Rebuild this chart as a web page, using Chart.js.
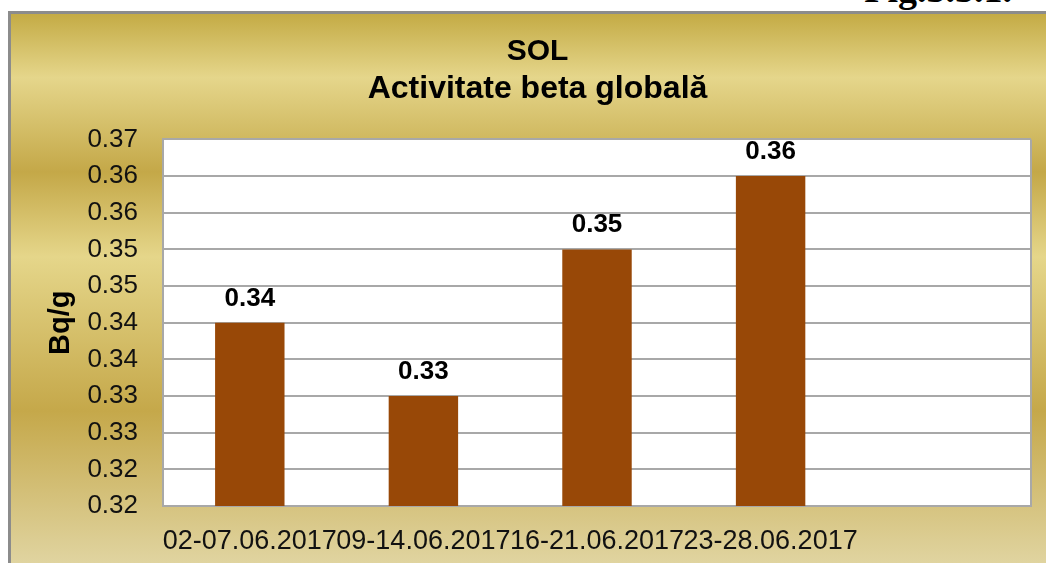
<!DOCTYPE html>
<html>
<head>
<meta charset="utf-8">
<script src="https://cdn.jsdelivr.net/npm/chart.js@4/dist/chart.umd.min.js"></script>
<style>
  html, body { margin: 0; padding: 0; background: #ffffff; width: 1046px; height: 563px; overflow: hidden; position: relative; }
  #frame {
    position: absolute; left: 8px; top: 11px; right: 0; bottom: 0;
    border-left: 3px solid #8c8c8c; border-top: 3px solid #8c8c8c;
    background: linear-gradient(to bottom,
      #c4ab45 0%, #e5d68b 11.6%, #c4a848 28.8%, #e5d68a 44.2%, #c5a84a 72.3%, #e0d4a0 100%);
  }
  #fig {
    position: absolute; right: 34px; top: -30px;
    font: bold 38px 'Liberation Serif', 'Times New Roman', serif; line-height: 38px; color: #000;
  }
  #c { position: absolute; left: 0; top: 0; }
</style>
</head>
<body>
<div id="frame"></div>
<div id="fig">Fig.3.3.1.</div>
<canvas id="c" width="1046" height="563"></canvas>
<script>
const categories = ['02-07.06.2017', '09-14.06.2017', '16-21.06.2017', '23-28.06.2017', ''];
const values = [0.345, 0.335, 0.355, 0.365, null];
const valueLabels = ['0.34', '0.33', '0.35', '0.36', ''];
const yTickLabels = ['0.32', '0.32', '0.33', '0.33', '0.34', '0.34', '0.35', '0.35', '0.36', '0.36', '0.37'];
const titleText = 'SOL';
const subtitleText = 'Activitate beta globală';
const yAxisTitle = 'Bq/g';

const FONT = "'Liberation Sans', Arial, sans-serif";

const plotBg = {
  id: 'plotBg',
  beforeDraw(chart) {
    const a = chart.chartArea, ctx = chart.ctx;
    ctx.save();
    ctx.fillStyle = '#ffffff';
    ctx.fillRect(a.left, a.top, a.right - a.left, a.bottom - a.top);
    ctx.strokeStyle = '#a8a8a8';
    ctx.lineWidth = 2;
    ctx.beginPath();
    ctx.moveTo(a.right, a.top);
    ctx.lineTo(a.right, a.bottom);
    ctx.stroke();
    ctx.restore();
  }
};

const barLabels = {
  id: 'barLabels',
  afterDatasetsDraw(chart) {
    const ctx = chart.ctx;
    const meta = chart.getDatasetMeta(0);
    ctx.save();
    ctx.font = 'bold 26px ' + FONT;
    ctx.fillStyle = '#000000';
    ctx.textAlign = 'center';
    ctx.textBaseline = 'alphabetic';
    meta.data.forEach((bar, i) => {
      if (values[i] == null) return;
      ctx.fillText(valueLabels[i], bar.x, bar.y - 17);
    });
    ctx.restore();
  }
};

new Chart(document.getElementById('c'), {
  type: 'bar',
  data: {
    labels: categories,
    datasets: [{
      data: values,
      backgroundColor: '#984807',
      borderWidth: 0,
      categoryPercentage: 1.0,
      barPercentage: 0.4
    }]
  },
  options: {
    responsive: false,
    animation: false,
    events: [],
    layout: { padding: { left: 44, right: 15, top: 0, bottom: 0 } },
    plugins: {
      legend: { display: false },
      tooltip: { enabled: false },
      title: {
        display: true, text: titleText, fullSize: true, color: '#000',
        font: { family: FONT, size: 30, weight: 'bold', lineHeight: 1.2 },
        padding: { top: 34, bottom: 0 }
      },
      subtitle: {
        display: true, text: subtitleText, fullSize: true, color: '#000',
        font: { family: FONT, size: 32, weight: 'bold', lineHeight: 1.2 },
        padding: { top: 0, bottom: 31 }
      }
    },
    scales: {
      x: {
        grid: { display: false, drawTicks: false },
        border: { display: true, color: '#a8a8a8', width: 2 },
        ticks: {
          autoSkip: false, maxRotation: 0, minRotation: 0, padding: 19,
          color: '#111', font: { family: FONT, size: 27 }
        },
        afterFit(s) { s.height = 57; }
      },
      y: {
        min: 0.32, max: 0.37,
        grid: { color: '#a8a8a8', lineWidth: 2, drawTicks: false },
        border: { display: true, color: '#a8a8a8', width: 2 },
        ticks: {
          stepSize: 0.005, padding: 25, color: '#111',
          font: { family: FONT, size: 26 },
          callback(v, i, ticks) {
            return ticks.length === yTickLabels.length ? yTickLabels[i] : Number(v).toFixed(2);
          }
        },
        title: {
          display: true, text: yAxisTitle, color: '#000',
          font: { family: FONT, size: 29, weight: 'bold', lineHeight: 1.2 },
          padding: 0
        },
        afterFit(s) { s.width = 119; }
      }
    }
  },
  plugins: [plotBg, barLabels]
});
</script>
</body>
</html>
